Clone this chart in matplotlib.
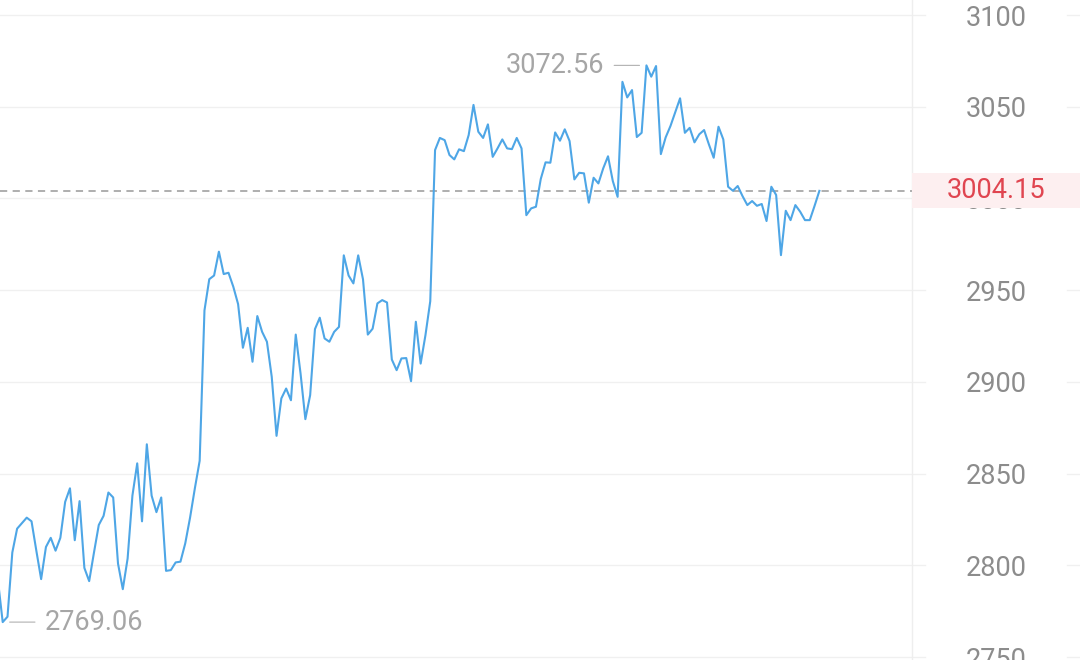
import matplotlib
matplotlib.use('Agg')
import matplotlib.pyplot as plt
from matplotlib.patches import Rectangle

plt.rcParams['font.family'] = ['Roboto', 'DejaVu Sans']

# index values, one point per slot
values = [
    2792, 2769.06, 2772, 2807, 2820, 2823, 2826, 2824, 2808, 2792.5,
    2810, 2815, 2808, 2815, 2834.6, 2842, 2813.7, 2835, 2798.6, 2791.4,
    2807, 2822, 2827, 2839.7, 2837, 2801, 2787, 2803.7, 2838, 2855.6,
    2824, 2866, 2838, 2829, 2837, 2797, 2797.4, 2801.6, 2802, 2812,
    2826, 2842, 2857, 2939, 2956, 2958, 2971, 2958.8, 2959.5, 2951.9,
    2942.4, 2918.6, 2929.5, 2911, 2935.9, 2927.3, 2921.9, 2902.8, 2870.6, 2891,
    2896.4, 2890, 2925.8, 2904.6, 2879.7, 2892.8, 2928.8, 2935, 2923.7, 2921.9,
    2927.3, 2930, 2969, 2958, 2953.7, 2969, 2955.9, 2925.8, 2929, 2942.8,
    2944.6, 2943.3, 2912.2, 2906.4, 2912.8, 2913, 2900.4, 2932.8, 2910, 2925.5,
    2944, 3026.4, 3033, 3031.8, 3023.7, 3021.3, 3026.8, 3025.8, 3034.6, 3051,
    3036.4, 3033, 3040.4, 3022.7, 3027.3, 3032.2, 3027.3, 3026.9, 3033, 3027.3,
    2990.9, 2994.6, 2995.5, 3010.6, 3019.7, 3019.5, 3036, 3031.5, 3037.7, 3031.3,
    3010.4, 3014, 3013.7, 2997.7, 3011.3, 3008.2, 3016.4, 3023, 3009.5, 3000.9,
    3063.6, 3055.1, 3059.1, 3033.5, 3035.8, 3072.56, 3066.4, 3072.2, 3024.2, 3033.3,
    3039.5, 3047, 3054.6, 3035.8, 3038.5, 3030.6, 3035, 3037.3, 3029.5, 3022.2,
    3039.1, 3032.2, 3006.4, 3004.2, 3006.8, 3001.3, 2996.4, 2998.6, 2996, 2997,
    2987.7, 3006.4, 3001.9, 2969.1, 2993.3, 2988.2, 2996.4, 2992.8, 2988.2, 2988.2,
    2996, 3004.15,
]
ref_price = 3004.15
y_ticks = [2750, 2800, 2850, 2900, 2950, 3000, 3050, 3100]

W, H = 1080, 660
plot_w = 912
step = 4.804  # pixels per slot

fig = plt.figure(figsize=(W / 100, H / 100), dpi=100)
ax = fig.add_axes([0, 0, plot_w / W, 1])

x = list(range(len(values)))
ax.plot(x, values, color='#4ea6e6', lw=1.5, zorder=4)

left = 2.1 / step
ax.set_xlim(left, left + plot_w / step)
ax.set_ylim(2748.4, 3108.2)

for s in ax.spines.values():
    s.set_visible(False)
ax.set_xticks([])
ax.set_yticks(y_ticks)
ax.yaxis.tick_right()
ax.tick_params(axis='y', length=0, pad=60.5, labelsize=19.5, labelcolor='#8c8c8c')
for lab in ax.get_yticklabels():
    lab.set_ha('center')

trans = ax.get_yaxis_transform()
for v in y_ticks:
    ax.plot([0, 925 / plot_w], [v, v], transform=trans, color='#f0f0f0',
            lw=1, clip_on=False, zorder=0)
    ax.plot([1067 / plot_w, W / plot_w], [v, v], transform=trans, color='#f0f0f0',
            lw=1, clip_on=False, zorder=0)

# separator between plot and price scale
ax.plot([1, 1], [0, 1], transform=ax.transAxes, color='#eeeeee', lw=1, clip_on=False)

# previous close
ax.axhline(ref_price, color='#a8a8a8', lw=1.3, ls=(0, (4, 3)), zorder=3)
ax.add_patch(Rectangle((1, ref_price - 9.5), (W - plot_w) / plot_w, 19, transform=trans,
                       fc='#fdeff0', ec='none', clip_on=False, zorder=5))
ax.text(1 + 84 / plot_w, ref_price, '%.2f' % ref_price, transform=trans,
        ha='center', va='center', color='#e04550', fontsize=19.5, zorder=6)

# max / min markers
i_max = values.index(max(values))
i_min = values.index(min(values))
line_props = dict(arrowstyle='-', color='#b0b0b0', lw=0.8, shrinkA=5, shrinkB=5)
ax.annotate('%.2f' % values[i_max], xy=(i_max, values[i_max]), xytext=(-42, 0),
            textcoords='offset pixels', ha='right', va='center', color='#a6a6a6',
            fontsize=19.5, arrowprops=line_props)
ax.annotate('%.2f' % values[i_min], xy=(i_min, values[i_min]), xytext=(42, 0),
            textcoords='offset pixels', ha='left', va='center', color='#a6a6a6',
            fontsize=19.5, arrowprops=line_props)

fig.savefig('out.png', dpi=100)
